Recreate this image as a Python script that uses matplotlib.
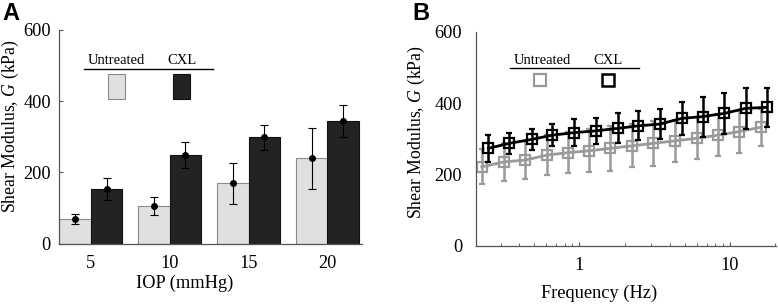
import matplotlib
matplotlib.use('Agg')
import matplotlib.pyplot as plt
from matplotlib.patches import Rectangle
from matplotlib.lines import Line2D
from matplotlib.ticker import FixedLocator, NullFormatter
import numpy as np

plt.rcParams['font.family'] = ['Liberation Serif', 'DejaVu Serif']
plt.rcParams['mathtext.fontset'] = 'custom'
plt.rcParams['mathtext.it'] = 'Liberation Serif:italic'
plt.rcParams['mathtext.rm'] = 'Liberation Serif'

# Panel A: shear modulus vs IOP
iop = ['5', '10', '15', '20']
untreated_mean = [69, 105, 169, 239]
untreated_err = [13, 25, 58, 86]
cxl_mean = [154, 248, 298, 343]
cxl_err = [31, 36, 36, 45]

# Panel B: shear modulus vs frequency (log axis)
freq_untreated = [0.225, 0.316, 0.436, 0.608, 0.845, 1.165, 1.60, 2.25, 3.10, 4.32, 6.01, 8.36, 11.5, 16.0]
g_untreated = [221, 235, 240, 254, 261, 266, 273, 280, 287, 294, 301, 310, 320, 332]
g_untreated_err = [49, 54, 53, 56, 58, 60, 63, 60, 63, 59, 59, 59, 59, 52]
freq_cxl = [0.249, 0.343, 0.483, 0.662, 0.926, 1.29, 1.80, 2.46, 3.43, 4.78, 6.59, 9.17, 12.7, 17.5]
g_cxl = [273, 287, 298, 310, 317, 322, 329, 336, 341, 357, 362, 371, 385, 388]
g_cxl_err = [38, 30, 30, 30, 38, 36, 42, 41, 43, 46, 56, 57, 58, 55]

W, H = 778, 306
light = '#e0e0e0'
dark = '#232323'
grey_line = '#9a9a9a'
spine_col = '#555555'
fs = 13.2


def fx(x):
    return x / W


def fy(y):
    return 1 - y / H


fig = plt.figure(figsize=(W / 100, H / 100), dpi=100)
axA = fig.add_axes([fx(59.3), fy(243.5), fx(361.7) - fx(59.3), fy(30) - fy(243.5)])
axB = fig.add_axes([fx(476), fy(245.7), fx(776) - fx(476), fy(31.7) - fy(245.7)])

# ---- Panel A ----
x = np.arange(1, len(iop) + 1)
w = 0.4
axA.bar(x - w / 2, untreated_mean, width=w, color=light, edgecolor='#8a8a8a', linewidth=0.8)
axA.bar(x + w / 2, cxl_mean, width=w, color=dark, edgecolor='#111111', linewidth=0.8)
axA.errorbar(x - w / 2, untreated_mean, yerr=untreated_err, fmt='o', color='black',
             ms=4, elinewidth=0.8, capsize=3, capthick=0.8)
axA.errorbar(x + w / 2, cxl_mean, yerr=cxl_err, fmt='o', color='black',
             ms=4, elinewidth=0.8, capsize=3, capthick=0.8)
axA.set_xlim(0.6, 4.435)
axA.set_ylim(0, 600)
axA.set_xticks(x)
axA.set_xticklabels(iop)
axA.set_yticks([0, 200, 400, 600])
axA.tick_params(axis='x', length=0, labelsize=fs, pad=8)
axA.tick_params(axis='y', direction='in', length=3, labelsize=fs, pad=6, color=spine_col)
axA.set_xlabel('IOP (mmHg)', fontsize=fs)
axA.xaxis.set_label_coords(0.416, -0.145)
axA.set_ylabel('Shear Modulus, $G$ (kPa)', fontsize=12.8)
axA.yaxis.set_label_coords(-0.126, 0.55)

# ---- Panel B ----
axB.errorbar(freq_untreated, g_untreated, yerr=g_untreated_err, color=grey_line, marker='s',
             mfc='none', mec=grey_line, ms=7, mew=1.6, lw=2, elinewidth=1.8, capsize=2.5,
             capthick=1.8, zorder=2)
axB.errorbar(freq_cxl, g_cxl, yerr=g_cxl_err, color='black', marker='s',
             mfc='none', mec='black', ms=7, mew=1.6, lw=2, elinewidth=1.8, capsize=2.5,
             capthick=1.8, zorder=3)
axB.set_xscale('log')
axB.set_xlim(0.206, 20.2)
axB.set_ylim(0, 600)
axB.xaxis.set_major_locator(FixedLocator([1, 10]))
axB.set_xticklabels(['1', '10'])
axB.xaxis.set_minor_locator(FixedLocator([0.3, 0.4, 0.5, 0.6, 0.7, 0.8, 0.9,
                                          2, 3, 4, 5, 6, 7, 8, 9, 20]))
axB.xaxis.set_minor_formatter(NullFormatter())
axB.set_yticks([0, 200, 400, 600])
axB.tick_params(axis='x', which='both', direction='in', length=2, labelsize=fs, pad=8, color=spine_col)
axB.tick_params(axis='x', which='major', length=3)
axB.tick_params(axis='y', direction='in', length=0, labelsize=fs, pad=10)
axB.set_xlabel('Frequency (Hz)', fontsize=fs)
axB.xaxis.set_label_coords(0.41, -0.184)
axB.set_ylabel('Shear Modulus, $G$ (kPa)', fontsize=12.8)
axB.yaxis.set_label_coords(-0.163, 0.53)

for ax in (axA, axB):
    ax.spines['top'].set_visible(False)
    ax.spines['right'].set_visible(False)
    for s in ('left', 'bottom'):
        ax.spines[s].set_color(spine_col)
        ax.spines[s].set_linewidth(0.9)

# ---- hand-drawn legends ----
# A
fig.text(fx(116.7), fy(61), 'Untreated', fontsize=10.5, ha='center', va='center')
fig.text(fx(182), fy(61), 'CXL', fontsize=10.5, ha='center', va='center')
fig.add_artist(Line2D([fx(84.3), fx(212.7)], [fy(68.7), fy(68.7)], color='black', lw=1))
fig.add_artist(Rectangle((fx(108.5), fy(99.3)), fx(125) - fx(108.5), fy(74.3) - fy(99.3),
                         facecolor=light, edgecolor='#8a8a8a', lw=0.8, transform=fig.transFigure))
fig.add_artist(Rectangle((fx(173.2), fy(99.3)), fx(190) - fx(173.2), fy(74.3) - fy(99.3),
                         facecolor=dark, edgecolor='#111111', lw=0.8, transform=fig.transFigure))
# B
fig.text(fx(542.3), fy(60), 'Untreated', fontsize=10.5, ha='center', va='center')
fig.text(fx(608.3), fy(60), 'CXL', fontsize=10.5, ha='center', va='center')
fig.add_artist(Line2D([fx(510), fx(639.3)], [fy(68.3), fy(68.3)], color='black', lw=1))
fig.add_artist(Line2D([fx(540)], [fy(80)], marker='s', ms=8, mfc='white', mec=grey_line, mew=1.6))
fig.add_artist(Line2D([fx(608.3)], [fy(80)], marker='s', ms=8, mfc='white', mec='black', mew=1.8))

# panel letters
fig.text(fx(2), fy(13), 'A', fontsize=17, fontweight='bold', family='Liberation Sans', va='center')
fig.text(fx(412), fy(13), 'B', fontsize=17, fontweight='bold', family='Liberation Sans', va='center')

fig.savefig('out.png', dpi=100)
